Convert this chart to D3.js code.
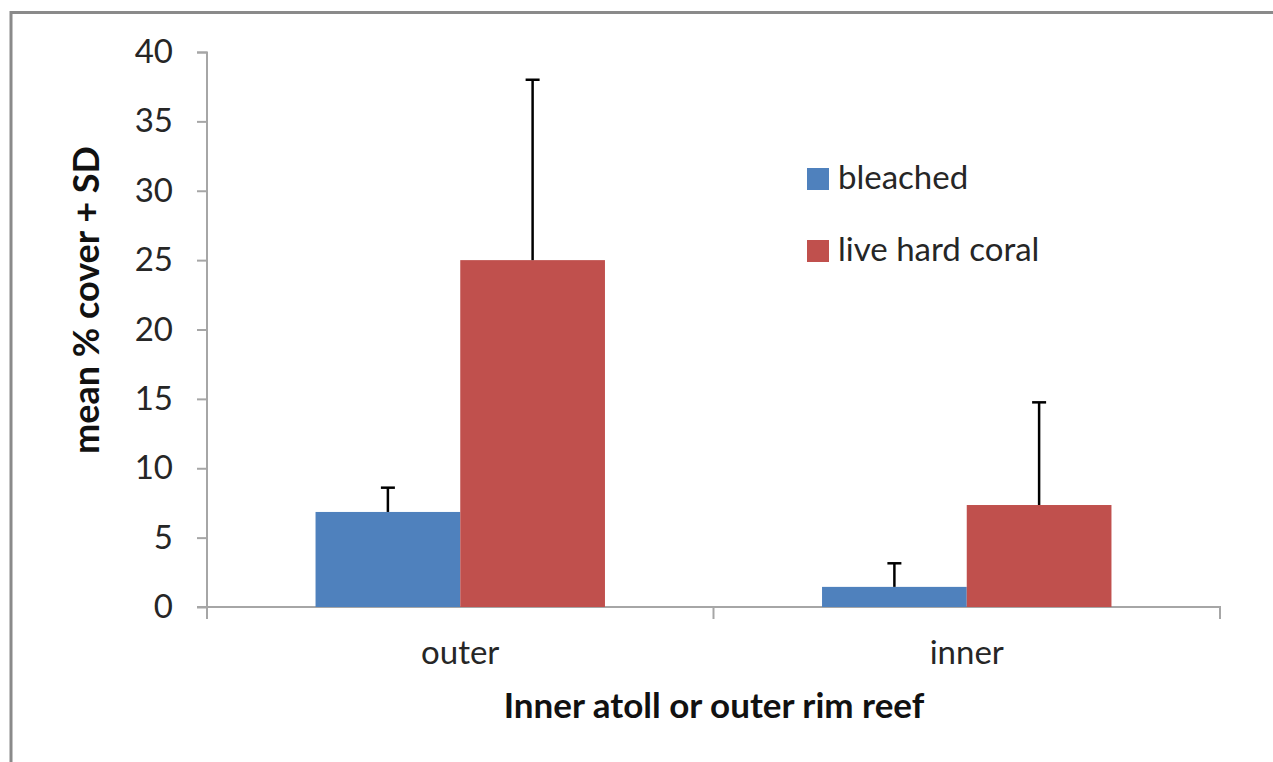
<!DOCTYPE html>
<html><head><meta charset="utf-8">
<script src="https://cdn.jsdelivr.net/npm/d3@7"></script>
<style>html,body{margin:0;padding:0;background:#fff;}svg{display:block;}</style>
</head><body>
<svg id="chart" width="1273" height="762"></svg>
<script>
const categories = ["outer", "inner"];
const seriesNames = ["bleached", "live hard coral"];
const bleachedMean = [6.85, 1.45];
const bleachedSD = [1.75, 1.7];
const coralMean = [25.0, 7.35];
const coralSD = [13.0, 7.4];
const yTicks = [0, 5, 10, 15, 20, 25, 30, 35, 40];
const colors = ["#4F81BD", "#C0504D"];

const svg = d3.select("#chart");
const font = "Lato, 'Open Sans', sans-serif";

// frame
svg.append("line").attr("x1", 11).attr("x2", 1273).attr("y1", 12.5).attr("y2", 12.5).attr("stroke", "#8a8a8a").attr("stroke-width", 3);
svg.append("line").attr("x1", 11).attr("x2", 11).attr("y1", 11).attr("y2", 762).attr("stroke", "#8a8a8a").attr("stroke-width", 3);

const x = d3.scaleBand().domain(categories).range([207, 1220]).paddingInner(0).paddingOuter(0);
const y = d3.scaleLinear().domain([0, 40]).range([607, 52]);
const barW = x.bandwidth() / 3.5;
const gap = (x.bandwidth() - 2 * barW) / 2;

const series = [
  {name: seriesNames[0], mean: bleachedMean, sd: bleachedSD, color: colors[0]},
  {name: seriesNames[1], mean: coralMean, sd: coralSD, color: colors[1]}
];

// y axis
const yAxis = d3.axisLeft(y).tickValues(yTicks).tickSize(10).tickPadding(24);
const gy = svg.append("g").attr("transform", "translate(207,0)").call(yAxis);
gy.select(".domain").attr("stroke", "#a6a6a6").attr("stroke-width", 2).attr("d", "M-10,52.5H0V619");
gy.selectAll(".tick line").attr("stroke", "#a6a6a6").attr("stroke-width", 2);
gy.selectAll(".tick text").attr("font-family", font).attr("font-size", 33).attr("fill", "#262626");

// x axis
const gx = svg.append("g").attr("transform", "translate(0,607)");
gx.append("line").attr("x1", 197).attr("x2", 1221).attr("y1", 0).attr("y2", 0).attr("stroke", "#a6a6a6").attr("stroke-width", 2);
const xTickPos = [207, ...categories.map(c => x(c) + x.bandwidth())];
gx.selectAll("line.xt").data(xTickPos).enter().append("line").attr("class", "xt")
  .attr("x1", d => d).attr("x2", d => d).attr("y1", 0).attr("y2", 12).attr("stroke", "#a6a6a6").attr("stroke-width", 2);
gx.selectAll("text").data(categories).enter().append("text")
  .attr("x", d => x(d) + x.bandwidth() / 2).attr("y", 57)
  .attr("text-anchor", "middle").attr("font-family", font).attr("font-size", 33).attr("fill", "#262626").text(d => d);

// bars
series.forEach((s, si) => {
  const g = svg.append("g");
  g.selectAll("rect").data(categories).enter().append("rect")
    .attr("x", d => x(d) + gap + si * barW)
    .attr("width", barW)
    .attr("y", (d, i) => y(s.mean[i]))
    .attr("height", (d, i) => y(0) - y(s.mean[i]))
    .attr("fill", s.color);
});
// error bars
series.forEach((s, si) => {
  const g = svg.append("g");
  categories.forEach((c, i) => {
    const cx = x(c) + gap + si * barW + barW / 2;
    g.append("line").attr("x1", cx).attr("x2", cx).attr("y1", y(s.mean[i])).attr("y2", y(s.mean[i] + s.sd[i]))
      .attr("stroke", "#000").attr("stroke-width", 2.5);
    g.append("line").attr("x1", cx - 7).attr("x2", cx + 7).attr("y1", y(s.mean[i] + s.sd[i])).attr("y2", y(s.mean[i] + s.sd[i]))
      .attr("stroke", "#000").attr("stroke-width", 2.5);
  });
});

// legend
const lg = svg.append("g");
series.forEach((s, si) => {
  const ly = 168 + si * 72;
  lg.append("rect").attr("x", 807).attr("y", ly).attr("width", 22).attr("height", 22).attr("fill", s.color);
  lg.append("text").attr("x", 838).attr("y", ly + 21).attr("font-family", font).attr("font-size", 33).attr("fill", "#262626").text(s.name);
});

// axis titles
svg.append("text").attr("x", 714).attr("y", 718).attr("text-anchor", "middle")
  .attr("font-family", font).attr("font-weight", "bold").attr("font-size", 35).attr("fill", "#111")
  .text("Inner atoll or outer rim reef");
svg.append("text").attr("transform", "translate(99,300) rotate(-90)").attr("text-anchor", "middle")
  .attr("font-family", font).attr("font-weight", "bold").attr("font-size", 36).attr("fill", "#111")
  .text("mean % cover + SD");
</script>
</body></html>
